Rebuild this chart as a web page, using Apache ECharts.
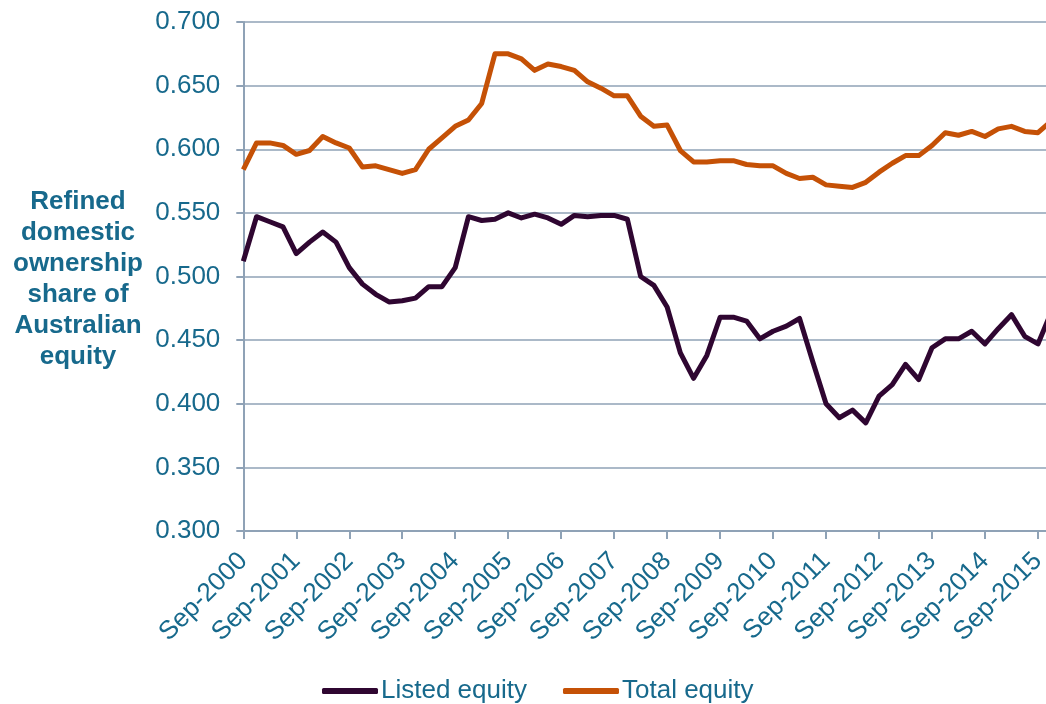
<!DOCTYPE html>
<html>
<head>
<meta charset="utf-8">
<script src="https://cdn.jsdelivr.net/npm/echarts@6/dist/echarts.min.js"></script>
<style>
html,body{margin:0;padding:0;background:#fff;overflow:hidden;width:1046px;height:704px;}
#chart{width:1052px;height:704px;}
</style>
</head>
<body>
<div id="chart"></div>
<script>
const categories = [
 'Sep-2000','Dec-2000','Mar-2001','Jun-2001','Sep-2001','Dec-2001','Mar-2002','Jun-2002',
 'Sep-2002','Dec-2002','Mar-2003','Jun-2003','Sep-2003','Dec-2003','Mar-2004','Jun-2004',
 'Sep-2004','Dec-2004','Mar-2005','Jun-2005','Sep-2005','Dec-2005','Mar-2006','Jun-2006',
 'Sep-2006','Dec-2006','Mar-2007','Jun-2007','Sep-2007','Dec-2007','Mar-2008','Jun-2008',
 'Sep-2008','Dec-2008','Mar-2009','Jun-2009','Sep-2009','Dec-2009','Mar-2010','Jun-2010',
 'Sep-2010','Dec-2010','Mar-2011','Jun-2011','Sep-2011','Dec-2011','Mar-2012','Jun-2012',
 'Sep-2012','Dec-2012','Mar-2013','Jun-2013','Sep-2013','Dec-2013','Mar-2014','Jun-2014',
 'Sep-2014','Dec-2014','Mar-2015','Jun-2015','Sep-2015','Dec-2015'
];
const listedEquity = [
 0.512,0.547,0.543,0.539,0.518,0.527,0.535,0.527,0.507,0.494,
 0.486,0.480,0.481,0.483,0.492,0.492,0.507,0.547,0.544,0.545,
 0.550,0.546,0.549,0.546,0.541,0.548,0.547,0.548,0.548,0.545,
 0.500,0.493,0.476,0.440,0.420,0.438,0.468,0.468,0.465,0.451,
 0.457,0.461,0.467,0.433,0.400,0.389,0.395,0.385,0.406,0.415,
 0.431,0.419,0.444,0.451,0.451,0.457,0.447,0.459,0.470,0.453,
 0.447,0.472
];
const totalEquity = [
 0.584,0.605,0.605,0.603,0.596,0.599,0.610,0.605,0.601,0.586,
 0.587,0.584,0.581,0.584,0.600,0.609,0.618,0.623,0.636,0.675,
 0.675,0.671,0.662,0.667,0.665,0.662,0.653,0.648,0.642,0.642,
 0.626,0.618,0.619,0.599,0.590,0.590,0.591,0.591,0.588,0.587,
 0.587,0.581,0.577,0.578,0.572,0.571,0.570,0.574,0.582,0.589,
 0.595,0.595,0.603,0.613,0.611,0.614,0.610,0.616,0.618,0.614,
 0.613,0.622
];
const yTitleLines = ['Refined','domestic','ownership','share of','Australian','equity'];

const textColor = '#17698C';
const axisColor = '#8FA2B6';
const font = 'Liberation Sans, Arial, sans-serif';

const chart = echarts.init(document.getElementById('chart'), null, {renderer:'canvas'});
chart.setOption({
  animation:false,
  backgroundColor:'#fff',
  grid:{left:243.3, right:0.8, top:22, bottom:173, containLabel:false},
  xAxis:{
    type:'category', data:categories, boundaryGap:false,
    axisLine:{show:true, lineStyle:{color:axisColor, width:2}},
    axisTick:{show:true, interval:3, length:8, lineStyle:{color:axisColor, width:2}},
    axisLabel:{interval:3, rotate:45, margin:26, color:textColor, fontSize:26, fontFamily:font},
    splitLine:{show:false}
  },
  yAxis:{
    type:'value', min:0.3, max:0.7, interval:0.05,
    axisLine:{show:true, lineStyle:{color:axisColor, width:2}},
    axisTick:{show:true, length:7, lineStyle:{color:axisColor, width:2}},
    axisLabel:{margin:23, color:textColor, fontSize:26, fontFamily:font,
      formatter:v=>v.toFixed(3)},
    splitLine:{show:true, lineStyle:{color:axisColor, width:1.5}}
  },
  legend:{
    left:317, top:673, itemWidth:56, itemHeight:6, itemGap:36, icon:'roundRect',
    textStyle:{color:textColor, fontSize:26, fontFamily:font, padding:[0,0,0,-2]},
    data:['Listed equity','Total equity']
  },
  graphic:[{
    type:'text', x:78, y:279,
    style:{text:yTitleLines.join('\n'), fill:textColor, font:'bold 26px '+font,
      textAlign:'center', textVerticalAlign:'middle', lineHeight:31}
  }],
  series:[
    {name:'Listed equity', type:'line', data:listedEquity, symbol:'none', clip:false,
     lineStyle:{color:'#2F0631', width:5, join:'round'}, itemStyle:{color:'#2F0631'}},
    {name:'Total equity', type:'line', data:totalEquity, symbol:'none', clip:false,
     lineStyle:{color:'#C55106', width:5, join:'round'}, itemStyle:{color:'#C55106'}}
  ]
});
</script>
</body>
</html>
